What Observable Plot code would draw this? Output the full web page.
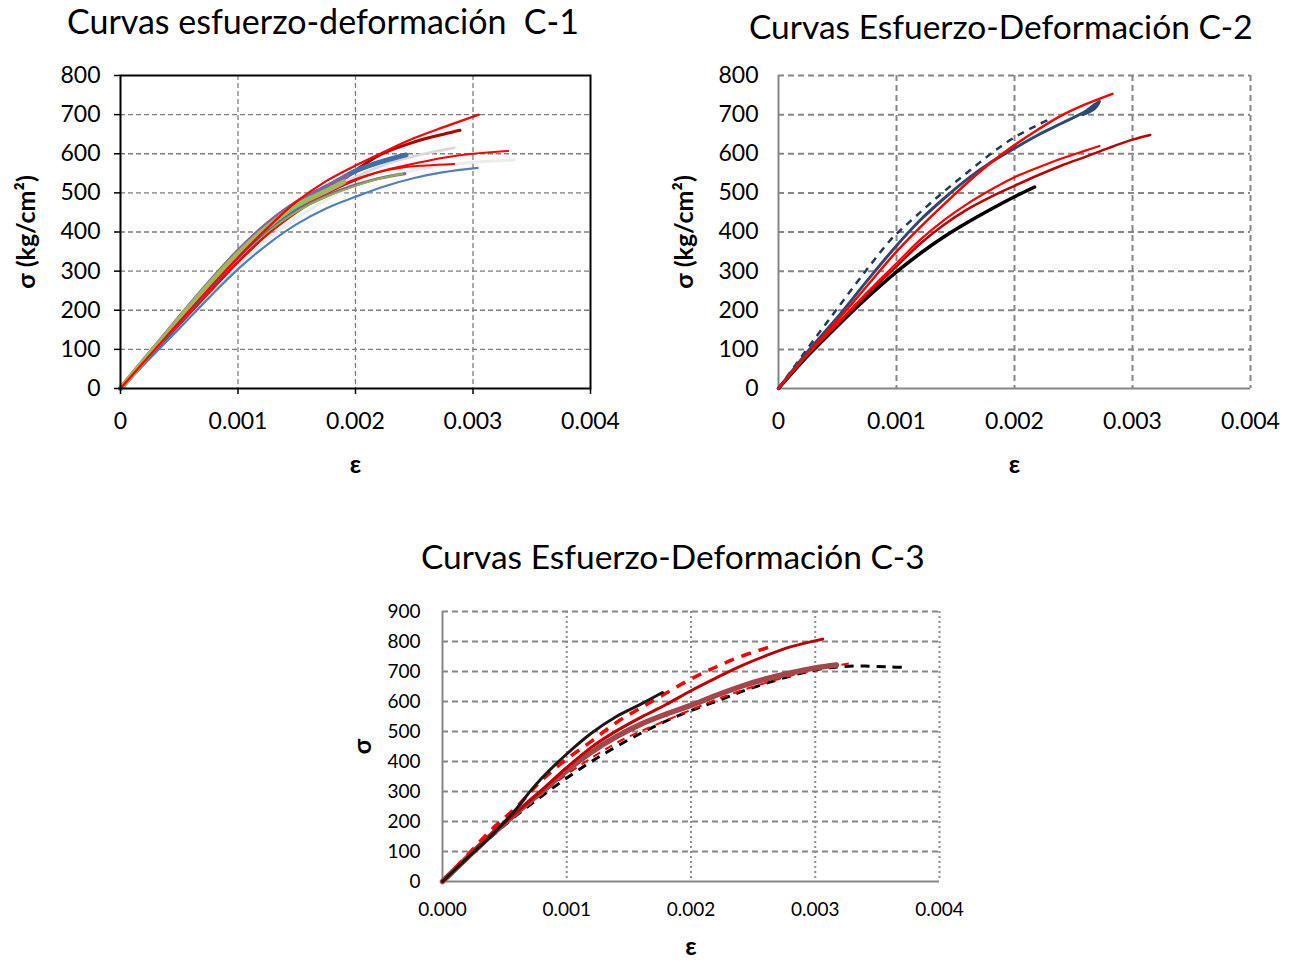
<!DOCTYPE html>
<html>
<head>
<meta charset="utf-8">
<script src="https://cdn.jsdelivr.net/npm/d3@7"></script>
<script src="https://cdn.jsdelivr.net/npm/@observablehq/plot@0.6"></script>
<style>
  html, body { margin: 0; padding: 0; background: #fff; }
  #root { position: relative; width: 1293px; height: 963px; background: #fff; font-family: Lato, "Open Sans", sans-serif; }
  .chart { position: absolute; }
  .title { position: absolute; white-space: pre; font-family: Lato, "Open Sans", sans-serif; color: #000; line-height: 1; }
</style>
</head>
<body>
<div id="root"></div>
<script>
// ---------- Tick values ----------
const epsTicks = [0, 0.001, 0.002, 0.003, 0.004];
const sigTicks800 = [0, 100, 200, 300, 400, 500, 600, 700, 800];
const sigTicks900 = [0, 100, 200, 300, 400, 500, 600, 700, 800, 900];

// ---------- C-1 series: [ε, σ (kg/cm²)] ----------
const c1_blancoEps = [[0,0],[0.00025,80],[0.0005,158],[0.00075,236],[0.001,312],[0.00125,380],[0.0015,436],[0.00175,482],[0.002,518],[0.0025,558],[0.003,578],[0.00335,584]];
const c1_grisClaro = [[0,0],[0.00025,82],[0.0005,163],[0.00075,246],[0.001,325],[0.00125,395],[0.0015,455],[0.00175,500],[0.002,540],[0.00225,572],[0.0025,594],[0.00284,615]];
const c1_azul = [[0,0],[0.00025,77],[0.0005,153],[0.00075,231],[0.001,305],[0.00125,368],[0.0015,420],[0.00175,460],[0.002,490],[0.00225,517],[0.0025,538],[0.00275,553],[0.00304,564]];
const c1_rojoOscuro = [[0,0],[0.00025,84],[0.0005,168],[0.00075,255],[0.001,338],[0.00125,408],[0.0015,465],[0.00175,512],[0.00194,545],[0.0022,596],[0.0025,630],[0.00275,650],[0.00289,660]];
const c1_rojo3 = [[0,0],[0.00025,82],[0.0005,162],[0.00075,243],[0.001,322],[0.00125,393],[0.0015,450],[0.00175,497],[0.002,532],[0.0022,553],[0.0024,565],[0.0026,570],[0.00284,574]];
const c1_rojo2 = [[0,0],[0.00025,83],[0.0005,165],[0.00075,246],[0.001,325],[0.00125,396],[0.0015,455],[0.00175,500],[0.002,535],[0.00225,558],[0.0025,575],[0.00275,590],[0.003,600],[0.0033,607]];
const c1_morado = [[0,0],[0.00025,88],[0.0005,176],[0.00075,262],[0.001,340],[0.00125,405],[0.0015,455],[0.00175,492],[0.002,520],[0.0022,537],[0.00242,549]];
const c1_verdeFino = [[0,0],[0.00025,86],[0.0005,171],[0.00075,254],[0.001,332],[0.00125,400],[0.0015,452],[0.00175,490],[0.002,518],[0.0022,536],[0.0024,548]];
const c1_azulGrueso = [[0,0],[0.00025,86],[0.0005,172],[0.00075,257],[0.001,338],[0.00125,410],[0.0015,465],[0.00175,512],[0.002,556],[0.0022,578],[0.00243,597]];
const c1_moradoGrueso = [[0,0],[0.00025,90],[0.0005,180],[0.00075,268],[0.001,350],[0.00125,420],[0.0015,475],[0.00175,515],[0.00193,543]];
const c1_verdeGrueso = [[0,0],[0.00025,89],[0.0005,178],[0.00075,265],[0.001,345],[0.00125,413],[0.0015,468],[0.00175,505],[0.0019,528]];
const c1_rojo1 = [[0,0],[0.00025,85],[0.0005,170],[0.00075,254],[0.001,335],[0.00125,410],[0.0015,478],[0.00175,530],[0.002,570],[0.00225,606],[0.0025,640],[0.00275,668],[0.00305,700]];

// ---------- C-2 series ----------
const c2_negro = [[0,0],[0.00025,84],[0.0005,160],[0.00075,232],[0.001,298],[0.0012,345],[0.0014,387],[0.0016,424],[0.0018,458],[0.002,490],[0.00217,515]];
const c2_rojoOscuro = [[0,0],[0.00025,88],[0.0005,164],[0.00075,240],[0.001,312],[0.0012,370],[0.0014,418],[0.0016,458],[0.0018,490],[0.002,518],[0.0022,545],[0.0024,570],[0.0026,592],[0.0028,615],[0.003,636],[0.00315,648]];
const c2_rojoMedio = [[0,0],[0.00025,89],[0.0005,166],[0.00075,245],[0.001,320],[0.0012,380],[0.0014,430],[0.0016,472],[0.0018,508],[0.002,540],[0.0022,565],[0.0024,588],[0.0026,608],[0.00272,620]];
const c2_azulDiscontinuo = [[0,0],[0.00025,104],[0.0005,205],[0.00075,305],[0.00095,380],[0.001,395],[0.0012,450],[0.0014,503],[0.0016,552],[0.0018,600],[0.002,642],[0.0022,674],[0.0023,688]];
const c2_azul = [[0,0],[0.00025,95],[0.0005,182],[0.00075,275],[0.001,365],[0.0012,430],[0.0014,485],[0.0016,535],[0.0018,578],[0.002,614],[0.0022,648],[0.0024,678],[0.0026,708],[0.00272,734],[0.00268,716],[0.00258,700]];
const c2_rojo = [[0,0],[0.00025,90],[0.0005,174],[0.00075,262],[0.001,350],[0.0012,412],[0.0014,470],[0.0016,526],[0.0018,577],[0.002,622],[0.0022,662],[0.0024,698],[0.0026,726],[0.00283,753]];

// ---------- C-3 series ----------
const c3_negroDiscontinuo = [[0,0],[0.0002,78],[0.0004,152],[0.0006,222],[0.0008,285],[0.001,345],[0.0012,400],[0.0014,450],[0.0016,495],[0.0018,535],[0.002,570],[0.0022,600],[0.0024,632],[0.0026,660],[0.0028,685],[0.003,705],[0.0032,716],[0.0034,718],[0.0036,715],[0.00373,714]];
const c3_rojoDiscontinuoFino = [[0,0],[0.0002,78],[0.0004,155],[0.0006,225],[0.0008,292],[0.001,357],[0.0012,412],[0.0014,462],[0.0016,502],[0.0018,537],[0.002,572],[0.0022,606],[0.0024,636],[0.0026,662],[0.0028,686],[0.003,706],[0.00327,727]];
const c3_marron = [[0,0],[0.0002,80],[0.0004,158],[0.0006,230],[0.0008,300],[0.001,370],[0.0012,432],[0.0014,483],[0.0016,525],[0.0018,558],[0.002,587],[0.0022,620],[0.0024,650],[0.0026,675],[0.0028,695],[0.003,712],[0.00317,722]];
const c3_rojoOscuro = [[0,0],[0.0002,80],[0.0004,160],[0.0006,232],[0.0008,305],[0.001,380],[0.0012,448],[0.0014,502],[0.0016,548],[0.0018,590],[0.002,636],[0.0022,678],[0.0024,718],[0.0026,752],[0.0028,782],[0.00306,808]];
const c3_rojoDiscontinuo = [[0,0],[0.0002,88],[0.0004,175],[0.0006,250],[0.0008,338],[0.001,408],[0.0012,468],[0.0014,530],[0.0016,580],[0.0018,628],[0.002,675],[0.0022,715],[0.0024,750],[0.00262,780]];
const c3_negro = [[0,0],[0.0002,78],[0.0004,155],[0.0006,245],[0.0007,298],[0.0008,345],[0.001,425],[0.0012,495],[0.0014,550],[0.0016,592],[0.00177,630]];

// ---------- helpers ----------
const FONT = "Lato, 'Open Sans', sans-serif";
const fmtEps1 = d => d === 0 ? "0" : d.toFixed(3);
const fmtEps3 = d => d.toFixed(3);
const ln = (data, stroke, strokeWidth, extra = {}) =>
  Plot.line(data, {x: d => d[0], y: d => d[1], stroke, strokeWidth, curve: "catmull-rom", strokeLinecap: "round", strokeLinejoin: "round", ...extra});

const root = document.getElementById("root");
function place(el, left, top) {
  el.classList.add("chart");
  el.style.left = left + "px";
  el.style.top = top + "px";
  root.appendChild(el);
}
function title(text, left, top, size) {
  const d = document.createElement("div");
  d.className = "title";
  d.textContent = text;
  d.style.left = left + "px";
  d.style.top = top + "px";
  d.style.fontSize = size + "px";
  root.appendChild(d);
}

// ---------- C-1 ----------
const grid1 = {stroke: "#7f7f7f", strokeWidth: 1.3, strokeDasharray: "5,3"};
const c1 = Plot.plot({
  width: 640, height: 420,
  marginLeft: 120, marginRight: 50, marginTop: 15, marginBottom: 92,
  style: {fontFamily: FONT, fontSize: "23px", color: "#000", background: "transparent", overflow: "visible"},
  x: {domain: [0, 0.004]},
  y: {domain: [0, 800]},
  marks: [
    Plot.ruleY(sigTicks800.filter(v => v > 0 && v < 800), grid1),
    Plot.ruleX(epsTicks.filter(v => v > 0 && v < 0.004), grid1),
    ln(c1_blancoEps, "#ececec", 3),
    ln(c1_grisClaro, "#d9d9d9", 3),
    ln(c1_azul, "#4f81bd", 2.2),
    ln(c1_rojoOscuro, "#b00000", 3),
    ln(c1_rojo3, "#ff0000", 2),
    ln(c1_rojo2, "#ff0000", 2),
    ln(c1_morado, "#7a609e", 3),
    ln(c1_verdeFino, "#8fae4f", 2),
    ln(c1_azulGrueso, "#3f6ea8", 5),
    ln(c1_moradoGrueso, "#8064a2", 5),
    ln(c1_verdeGrueso, "#9bbb59", 5),
    ln(c1_rojo1, "#ff0000", 2.2),
    Plot.frame({stroke: "#000", strokeWidth: 2}),
    Plot.axisX({ticks: epsTicks, tickFormat: fmtEps1, tickSize: 6, tickPadding: 18, stroke: "#000", strokeWidth: 1.5, label: null, fontSize: 23}),
    Plot.axisY({ticks: sigTicks800, tickSize: 6, tickPadding: 14, stroke: "#000", strokeWidth: 1.5, label: null, fontSize: 23}),
    Plot.text(["σ (kg/cm²)"], {frameAnchor: "left", dx: -94, rotate: -90, textAnchor: "middle", text: d => d, fontWeight: "bold", fontSize: 25}),
    Plot.text(["ε"], {frameAnchor: "bottom", dy: 84, textAnchor: "middle", text: d => d, fontWeight: "bold", fontSize: 25})
  ]
});
place(c1, 0, 60);
title("Curvas esfuerzo-deformación  C-1", 67, 4, 34);

// ---------- C-2 ----------
const grid2 = {stroke: "#868686", strokeWidth: 2, strokeDasharray: "6,4"};
const c2 = Plot.plot({
  width: 633, height: 420,
  marginLeft: 118, marginRight: 43, marginTop: 15, marginBottom: 92,
  style: {fontFamily: FONT, fontSize: "23px", color: "#000", background: "transparent", overflow: "visible"},
  x: {domain: [0, 0.004]},
  y: {domain: [0, 800]},
  marks: [
    Plot.ruleY(sigTicks800.filter(v => v > 0), grid2),
    Plot.ruleX(epsTicks.filter(v => v > 0), grid2),
    Plot.ruleY([0], {stroke: "#868686", strokeWidth: 2}),
    Plot.ruleX([0], {stroke: "#868686", strokeWidth: 2}),
    ln(c2_negro, "#000000", 3.5),
    ln(c2_rojoOscuro, "#c00000", 2.5),
    ln(c2_rojoMedio, "#ff0000", 2.2),
    ln(c2_azulDiscontinuo, "#1f3a5c", 2.5, {strokeDasharray: "7,6", strokeLinecap: "butt"}),
    ln(c2_azul, "#2c4a70", 3),
    ln(c2_rojo, "#ff0000", 2.5),
    Plot.axisX({ticks: epsTicks, tickFormat: fmtEps1, tickSize: 0, tickPadding: 24, label: null, fontSize: 23}),
    Plot.axisY({ticks: sigTicks800, tickSize: 0, tickPadding: 20, label: null, fontSize: 23}),
    Plot.text(["σ (kg/cm²)"], {frameAnchor: "left", dx: -94, rotate: -90, textAnchor: "middle", text: d => d, fontWeight: "bold", fontSize: 25}),
    Plot.text(["ε"], {frameAnchor: "bottom", dy: 84, textAnchor: "middle", text: d => d, fontWeight: "bold", fontSize: 25})
  ]
});
place(c2, 660, 60);
title("Curvas Esfuerzo-Deformación C-2", 749, 10, 33.5);

// ---------- C-3 ----------
const grid3h = {stroke: "#868686", strokeWidth: 2, strokeDasharray: "6,4"};
const grid3v = {stroke: "#8c8c8c", strokeWidth: 2, strokeDasharray: "2,3"};
const c3 = Plot.plot({
  width: 650, height: 373,
  marginLeft: 112, marginRight: 41, marginTop: 21, marginBottom: 82,
  style: {fontFamily: FONT, fontSize: "19px", color: "#000", background: "transparent", overflow: "visible"},
  x: {domain: [0, 0.004]},
  y: {domain: [0, 900]},
  marks: [
    Plot.ruleY(sigTicks900.filter(v => v > 0), grid3h),
    Plot.ruleX(epsTicks.filter(v => v > 0), grid3v),
    Plot.ruleY([0], {stroke: "#868686", strokeWidth: 2}),
    Plot.ruleX([0], {stroke: "#868686", strokeWidth: 2}),
    ln(c3_negroDiscontinuo, "#000000", 3, {strokeDasharray: "9,7", strokeLinecap: "butt"}),
    ln(c3_rojoDiscontinuoFino, "#ff0000", 2, {strokeDasharray: "8,6", strokeLinecap: "butt"}),
    ln(c3_marron, "#a5464a", 5.5),
    ln(c3_rojoOscuro, "#c00000", 3),
    ln(c3_rojoDiscontinuo, "#ff0000", 3.5, {strokeDasharray: "10,8", strokeLinecap: "butt"}),
    ln(c3_negro, "#1a1a14", 3),
    Plot.axisX({ticks: epsTicks, tickFormat: fmtEps3, tickSize: 0, tickPadding: 21, label: null, fontSize: 19}),
    Plot.axisY({ticks: sigTicks900, tickSize: 0, tickPadding: 22, label: null, fontSize: 19}),
    Plot.text(["σ"], {frameAnchor: "left", dx: -80, rotate: -90, textAnchor: "middle", text: d => d, fontWeight: "bold", fontSize: 25}),
    Plot.text(["ε"], {frameAnchor: "bottom", dy: 73, textAnchor: "middle", text: d => d, fontWeight: "bold", fontSize: 25})
  ]
});
place(c3, 330, 590);
title("Curvas Esfuerzo-Deformación C-3", 421, 540, 33.5);
</script>
</body>
</html>
